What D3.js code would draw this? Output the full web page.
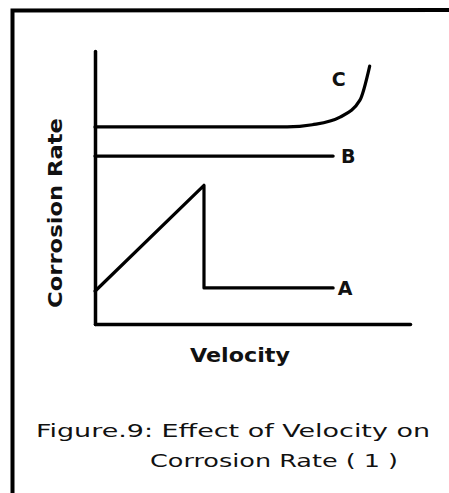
<!DOCTYPE html>
<html>
<head>
<meta charset="utf-8">
<script src="https://cdn.jsdelivr.net/npm/d3@7"></script>
<style>
  html, body { margin: 0; padding: 0; background: #fff; }
  svg { display: block; }
  text { font-family: "DejaVu Sans", sans-serif; fill: #111; }
</style>
</head>
<body>
<script>
// ---- Data (qualitative curves, in arbitrary units 0..10) ----
const curveNames = ["A", "B", "C"];
const velA = [0, 3.46, 3.46, 7.56];
const rateA = [1.2, 5.08, 1.32, 1.32];
const velB = [0, 7.56];
const rateB = [6.15, 6.15];
const velC = [0, 6.1, 6.9, 7.78, 8.41, 8.72];
const rateC = [7.22, 7.22, 7.3, 7.58, 8.2, 9.45];
const xTitle = "Velocity";
const yTitle = "Corrosion Rate";
const captionLines = ["Figure.9:  Effect of  Velocity  on", "Corrosion  Rate  ( 1 )"];

const W = 449, H = 493;
const svg = d3.select("body").append("svg").attr("width", W).attr("height", H);

// Frame of the scanned page
svg.append("path")
  .attr("d", `M12.5,${H} L12.5,10.5 L${W},10`)
  .attr("fill", "none").attr("stroke", "#000").attr("stroke-width", 4);

const x = d3.scaleLinear().domain([0, 10]).range([95, 410]);
const y = d3.scaleLinear().domain([0, 10]).range([324, 51]);

// Axes (no ticks)
const gx = svg.append("g").attr("transform", `translate(0,${y(0)})`)
  .call(d3.axisBottom(x).ticks(0).tickSizeOuter(0));
const gy = svg.append("g").attr("transform", `translate(${x(0)},0)`)
  .call(d3.axisLeft(y).ticks(0).tickSizeOuter(0));
[gx, gy].forEach(g => g.select(".domain")
  .attr("stroke", "#000").attr("stroke-width", 3.5).attr("stroke-linecap", "round"));

const series = [
  { name: "A", xs: velA, ys: rateA, curve: d3.curveLinear },
  { name: "B", xs: velB, ys: rateB, curve: d3.curveLinear },
  { name: "C", xs: velC, ys: rateC, curve: d3.curveMonotoneX }
];

series.forEach(s => {
  const pts = s.xs.map((v, i) => [v, s.ys[i]]);
  const line = d3.line().x(d => x(d[0])).y(d => y(d[1])).curve(s.curve);
  svg.append("path").datum(pts)
    .attr("d", line)
    .attr("fill", "none").attr("stroke", "#000").attr("stroke-width", 3.2)
    .attr("stroke-linejoin", "round").attr("stroke-linecap", "round");
});

// Curve labels
const labelPos = {
  A: [x(velA[3]) + 12, y(rateA[3])],
  B: [x(velB[1]) + 15, y(rateB[1])],
  C: [x(velC[velC.length - 1]) - 31, y(rateC[rateC.length - 1]) + 13]
};
curveNames.forEach(n => {
  svg.append("text")
    .attr("x", labelPos[n][0]).attr("y", labelPos[n][1])
    .attr("text-anchor", "middle").attr("dominant-baseline", "central")
    .attr("font-size", 19).attr("font-weight", "bold")
    .text(n);
});

// Axis titles
svg.append("text")
  .attr("x", 240).attr("y", 362)
  .attr("text-anchor", "middle")
  .attr("font-size", 20).attr("font-weight", "bold")
  .attr("textLength", 100).attr("lengthAdjust", "spacingAndGlyphs")
  .text(xTitle);

svg.append("text")
  .attr("transform", `translate(62,213) rotate(-90)`)
  .attr("text-anchor", "middle")
  .attr("font-size", 20).attr("font-weight", "bold")
  .attr("textLength", 190).attr("lengthAdjust", "spacingAndGlyphs")
  .text(yTitle);

// Caption
svg.append("text")
  .attr("x", 36).attr("y", 437)
  .attr("font-size", 18)
  .attr("textLength", 394).attr("lengthAdjust", "spacingAndGlyphs")
  .text(captionLines[0]);
svg.append("text")
  .attr("x", 150).attr("y", 467)
  .attr("font-size", 18)
  .attr("textLength", 248).attr("lengthAdjust", "spacingAndGlyphs")
  .text(captionLines[1]);
</script>
</body>
</html>
